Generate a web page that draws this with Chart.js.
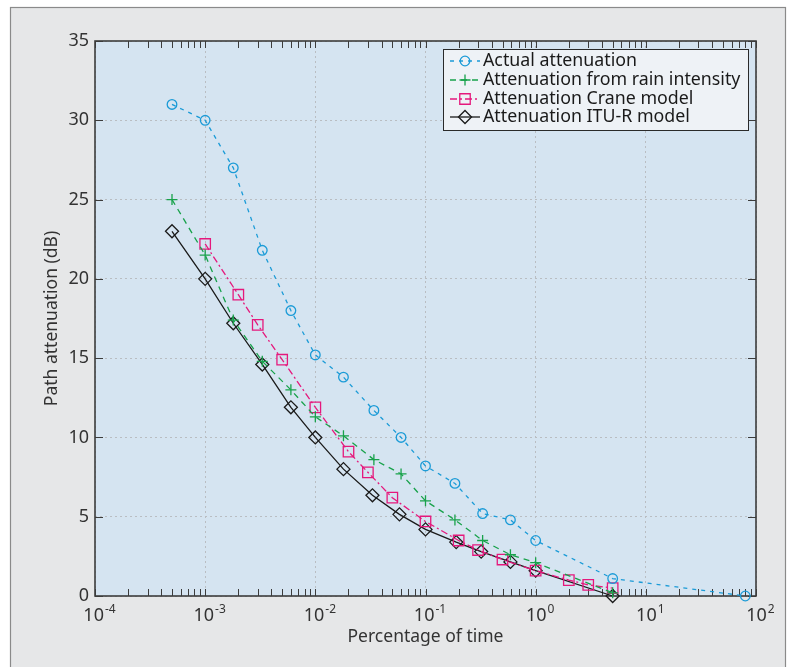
<!DOCTYPE html>
<html>
<head>
<meta charset="utf-8">
<script src="https://cdn.jsdelivr.net/npm/chart.js@4/dist/chart.umd.min.js"></script>
<style>
  html, body { margin: 0; padding: 0; background: #ffffff; }
  #wrap { width: 796px; height: 667px; position: relative; }
</style>
</head>
<body>
<div id="wrap"><canvas id="myChart"></canvas></div>
<script>
// Percentage of time (x, log) and path attenuation in dB (y) for each curve
const actualX = [5e-4, 1e-3, 1.8e-3, 3.3e-3, 6e-3, 1e-2, 1.8e-2, 3.4e-2, 6e-2, 0.1, 0.185, 0.33, 0.59, 1, 5, 80];
const actualY = [31.0, 30.0, 27.0, 21.8, 18.0, 15.2, 13.8, 11.7, 10.0, 8.2, 7.1, 5.2, 4.8, 3.5, 1.1, 0];

const rainX = [5e-4, 1e-3, 1.8e-3, 3.3e-3, 6e-3, 1e-2, 1.8e-2, 3.4e-2, 6e-2, 0.1, 0.185, 0.33, 0.59, 1, 5];
const rainY = [25.0, 21.5, 17.4, 14.8, 13.0, 11.3, 10.1, 8.6, 7.7, 6.0, 4.8, 3.5, 2.6, 2.1, 0.2];

const craneX = [1e-3, 2e-3, 3e-3, 5e-3, 1e-2, 2e-2, 3e-2, 5e-2, 0.1, 0.2, 0.3, 0.5, 1, 2, 3, 5];
const craneY = [22.2, 19.0, 17.1, 14.9, 11.9, 9.1, 7.8, 6.2, 4.7, 3.5, 2.9, 2.3, 1.6, 1.0, 0.7, 0.5];

const ituX = [5e-4, 1e-3, 1.8e-3, 3.3e-3, 6e-3, 1e-2, 1.8e-2, 3.3e-2, 5.8e-2, 0.1, 0.19, 0.32, 0.59, 1, 5];
const ituY = [23.0, 20.0, 17.2, 14.6, 11.9, 10.0, 8.0, 6.35, 5.15, 4.2, 3.4, 2.8, 2.15, 1.6, 0];

const seriesNames = ['Actual attenuation', 'Attenuation from rain intensity', 'Attenuation Crane model', 'Attenuation ITU-R model'];
const xDecades = [1e-4, 1e-3, 1e-2, 1e-1, 1e0, 1e1, 1e2];
const xExponents = ['-4', '-3', '-2', '-1', '0', '1', '2'];
const yTicks = [0, 5, 10, 15, 20, 25, 30, 35];

const FONT = '"Noto Sans", "Open Sans", sans-serif';
const TEXT = '#333333';
const AXIS = '#3c3c3c';

function points(xs, ys) {
    return xs.map((x, i) => ({ x: x, y: ys[i] }));
}

const datasets = [
    {
        label: seriesNames[0], data: points(actualX, actualY),
        borderColor: '#1b9bd7', borderWidth: 1.3, borderDash: [4, 5],
        pointStyle: 'circle', pointRadius: 4.8
    },
    {
        label: seriesNames[1], data: points(rainX, rainY),
        borderColor: '#18a24b', borderWidth: 1.3, borderDash: [6, 5],
        pointStyle: 'cross', pointRadius: 5.5
    },
    {
        label: seriesNames[2], data: points(craneX, craneY),
        borderColor: '#e5187c', borderWidth: 1.3, borderDash: [7, 3, 2, 3],
        pointStyle: 'rect', pointRadius: 7.4
    },
    {
        label: seriesNames[3], data: points(ituX, ituY),
        borderColor: '#1a1a1a', borderWidth: 1.3, borderDash: [],
        pointStyle: 'rectRot', pointRadius: 6.5
    }
].map(d => Object.assign(d, {
    showLine: true,
    tension: 0,
    clip: false,
    pointBorderColor: d.borderColor,
    pointBackgroundColor: 'rgba(0,0,0,0)',
    pointBorderWidth: 1.3,
    pointHoverRadius: d.pointRadius
}));

// marker used in the legend samples
function drawMarker(c, style, x, y, r) {
    c.beginPath();
    if (style === 'circle') {
        c.arc(x, y, r, 0, Math.PI * 2);
    } else if (style === 'cross') {
        c.moveTo(x - r, y); c.lineTo(x + r, y);
        c.moveTo(x, y - r); c.lineTo(x, y + r);
    } else if (style === 'rect') {
        const s = r * Math.SQRT1_2;
        c.rect(x - s, y - s, 2 * s, 2 * s);
    } else if (style === 'rectRot') {
        c.moveTo(x - r, y); c.lineTo(x, y - r); c.lineTo(x + r, y); c.lineTo(x, y + r); c.closePath();
    }
    c.stroke();
}

const framePlugin = {
    id: 'frame',
    beforeDraw(chart) {
        const c = chart.ctx;
        const a = chart.chartArea;
        c.save();
        c.fillStyle = '#ffffff';
        c.fillRect(0, 0, chart.width, chart.height);
        c.fillStyle = '#e6e7e8';
        c.fillRect(10, 7, 776, 662);
        c.strokeStyle = '#8a8a8a';
        c.lineWidth = 1.2;
        c.strokeRect(10.5, 7.5, 775, 662);
        c.fillStyle = '#d5e4f1';
        c.fillRect(a.left, a.top, a.right - a.left, a.bottom - a.top);
        c.restore();
    },
    beforeDatasetsDraw(chart) {
        const c = chart.ctx;
        const a = chart.chartArea;
        const xs = chart.scales.x;
        const ys = chart.scales.y;
        c.save();
        c.strokeStyle = AXIS;
        c.lineWidth = 1;
        c.beginPath();
        // x ticks: decades plus 2..9 minors, bottom and top, pointing inward
        for (let i = 0; i < xDecades.length; i++) {
            const d = xDecades[i];
            const ks = i < xDecades.length - 1 ? [1, 2, 3, 4, 5, 6, 7, 8, 9] : [1];
            ks.forEach(k => {
                const px = Math.round(xs.getPixelForValue(k * d)) + 0.5;
                c.moveTo(px, a.bottom); c.lineTo(px, a.bottom - 7);
                c.moveTo(px, a.top); c.lineTo(px, a.top + 7);
            });
        }
        yTicks.forEach(v => {
            const py = Math.round(ys.getPixelForValue(v)) + 0.5;
            c.moveTo(a.left, py); c.lineTo(a.left + 8, py);
            c.moveTo(a.right, py); c.lineTo(a.right - 8, py);
        });
        c.stroke();
        c.lineWidth = 1.6;
        c.strokeRect(a.left, a.top, a.right - a.left, a.bottom - a.top);
        c.restore();
    },
    afterDraw(chart) {
        const c = chart.ctx;
        const xs = chart.scales.x;
        c.save();
        c.fillStyle = TEXT;
        c.textBaseline = 'alphabetic';
        // decade labels as 10 with a raised exponent
        xDecades.forEach((d, i) => {
            c.font = '18px ' + FONT;
            const wBase = c.measureText('10').width;
            c.font = '12px ' + FONT;
            const wExp = c.measureText(xExponents[i]).width;
            const cx = xs.getPixelForValue(d) + 4;
            const x0 = cx - (wBase + wExp) / 2;
            c.textAlign = 'left';
            c.font = '18px ' + FONT;
            c.fillText('10', x0, 621);
            c.font = '12px ' + FONT;
            c.fillText(xExponents[i], x0 + wBase + 1, 613);
        });

        // legend box
        const lx = 443, ly = 49, lw = 305, lh = 81;
        c.fillStyle = '#eef2f6';
        c.fillRect(lx, ly, lw, lh);
        c.strokeStyle = '#2a2a2a';
        c.lineWidth = 1;
        c.strokeRect(lx + 0.5, ly + 0.5, lw, lh);
        const rows = [61, 80, 99, 117];
        chart.data.datasets.forEach((ds, i) => {
            const ry = rows[i];
            c.strokeStyle = ds.borderColor;
            c.lineWidth = 1.3;
            c.setLineDash(ds.borderDash);
            c.beginPath();
            c.moveTo(450, ry); c.lineTo(480, ry);
            c.stroke();
            c.setLineDash([]);
            drawMarker(c, ds.pointStyle, 465, ry, ds.pointRadius);
            c.fillStyle = '#1a1a1a';
            c.font = '17.8px ' + FONT;
            c.textAlign = 'left';
            c.textBaseline = 'middle';
            c.fillText(ds.label, 483, ry);
        });
        c.restore();
    }
};

const ctx = document.getElementById('myChart').getContext('2d');
const myChart = new Chart(ctx, {
    type: 'scatter',
    data: { datasets: datasets },
    options: {
        responsive: true,
        maintainAspectRatio: false,
        animation: false,
        devicePixelRatio: 1,
        layout: { padding: { top: 41, right: 40, left: 0, bottom: 0 } },
        plugins: {
            legend: { display: false },
            tooltip: { enabled: false }
        },
        scales: {
            x: {
                type: 'logarithmic',
                min: 1e-4,
                max: 1e2,
                afterBuildTicks: s => { s.ticks = xDecades.map(v => ({ value: v })); },
                afterFit: s => { s.height = 71; },
                ticks: { display: false },
                grid: { color: '#b9bdc2', lineWidth: 1, drawTicks: false },
                border: { display: false, dash: [2, 3] },
                title: {
                    display: true,
                    text: 'Percentage of time',
                    color: TEXT,
                    font: { family: FONT, size: 17.5 },
                    padding: { top: 0, bottom: 19.5 }
                }
            },
            y: {
                min: 0,
                max: 35,
                afterBuildTicks: s => { s.ticks = yTicks.map(v => ({ value: v })); },
                afterFit: s => { s.width = 95; },
                ticks: {
                    color: TEXT,
                    padding: 6,
                    font: { family: FONT, size: 18 }
                },
                grid: { color: '#b9bdc2', lineWidth: 1, drawTicks: false },
                border: { display: false, dash: [2, 3] },
                title: {
                    display: true,
                    text: 'Path attenuation (dB)',
                    color: TEXT,
                    font: { family: FONT, size: 17.5 },
                    padding: { top: 41.5, bottom: 0 }
                }
            }
        }
    },
    plugins: [framePlugin]
});
</script>
</body>
</html>
